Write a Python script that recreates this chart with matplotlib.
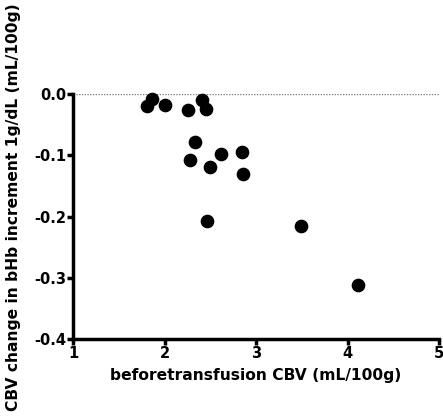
import matplotlib
matplotlib.use('Agg')
import matplotlib.pyplot as plt

plt.rcParams['font.family'] = ['DejaVu Sans']

# before-transfusion CBV vs CBV change per 1 g/dL bHb
cbv_before = [1.81, 1.86, 2.005, 2.26, 2.41, 2.45, 2.33, 2.275, 2.62, 2.85,
              2.50, 2.855, 2.46, 3.49, 4.11]
cbv_change = [-0.020, -0.008, -0.018, -0.026, -0.010, -0.024, -0.079, -0.108,
              -0.098, -0.094, -0.119, -0.130, -0.208, -0.215, -0.312]

x_ticks = [1, 2, 3, 4, 5]
y_ticks = [0.0, -0.1, -0.2, -0.3, -0.4]

fig = plt.figure(figsize=(4.43, 4.20), dpi=100)
ax = fig.add_axes([0.165, 0.193, 0.826, 0.583])

ax.scatter(cbv_before, cbv_change, s=78, color='black', zorder=3, clip_on=False)
ax.axhline(0, color='gray', linestyle=(0, (1, 1)), linewidth=1.0, zorder=1)

ax.set_xlim(1, 5)
ax.set_ylim(-0.4, 0.0)
ax.set_xticks(x_ticks)
ax.set_yticks(y_ticks)
ax.set_yticklabels(['%.1f' % v for v in y_ticks])

for s in ['top', 'right']:
    ax.spines[s].set_visible(False)
for s in ['left', 'bottom']:
    ax.spines[s].set_linewidth(2.5)
ax.tick_params(width=2.5, length=4, labelsize=10.5, pad=1)
for lab in ax.get_xticklabels() + ax.get_yticklabels():
    lab.set_fontweight('bold')

ax.set_xlabel('beforetransfusion CBV (mL/100g)', fontsize=11.2, fontweight='bold', labelpad=5)
ax.set_ylabel('CBV change in bHb increment 1g/dL (mL/100g)', fontsize=11.2,
              fontweight='bold')
ax.yaxis.set_label_coords(-0.142, 0.54)

fig.savefig('out.png', dpi=100)
